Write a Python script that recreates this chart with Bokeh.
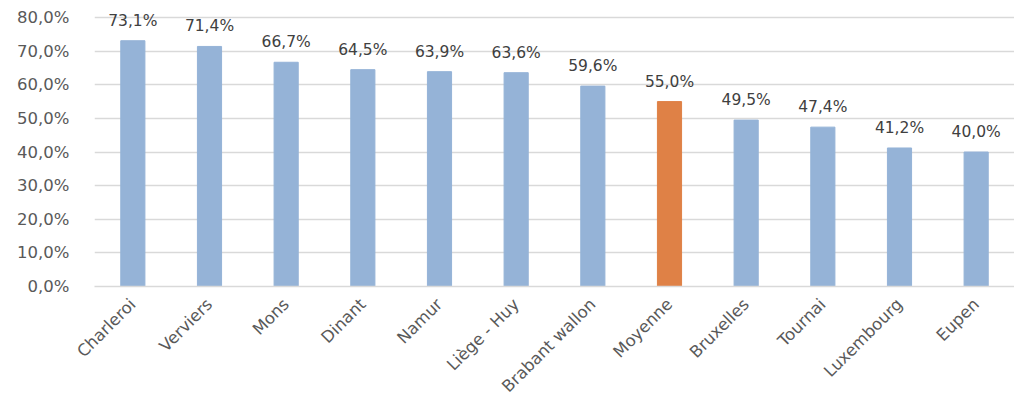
import math
from bokeh.plotting import figure
from bokeh.models import ColumnDataSource, CustomJSTickFormatter, FixedTicker, LabelSet
from bokeh.core.properties import value
from bokeh.embed import file_html
from bokeh.resources import INLINE

categories = ["Charleroi", "Verviers", "Mons", "Dinant", "Namur", "Liège - Huy",
              "Brabant wallon", "Moyenne", "Bruxelles", "Tournai", "Luxembourg", "Eupen"]
values = [0.731, 0.714, 0.667, 0.645, 0.639, 0.636, 0.596, 0.550, 0.495, 0.474, 0.412, 0.400]
labels = ["73,1%", "71,4%", "66,7%", "64,5%", "63,9%", "63,6%", "59,6%", "55,0%", "49,5%", "47,4%", "41,2%", "40,0%"]
colors = ["#95B3D7"] * 7 + ["#DF8146"] + ["#95B3D7"] * 4
y_ticks = [0.0, 0.1, 0.2, 0.3, 0.4, 0.5, 0.6, 0.7, 0.8]

FONT = "DejaVu Sans"
GREY = "#595959"

src = ColumnDataSource(dict(cat=categories, val=values, lab=labels, col=colors))

p = figure(x_range=categories, y_range=(0, 0.812), width=1014, height=408,
           output_backend="svg", toolbar_location=None,
           min_border_left=94, min_border_right=0, min_border_top=13, min_border_bottom=122)
p.outline_line_color = None
p.background_fill_color = "white"
p.border_fill_color = "white"

p.vbar(x="cat", top="val", width=0.315, color="col", source=src)

p.add_layout(LabelSet(x="cat", y="val", text="lab", source=src, text_align="center",
                      text_baseline="alphabetic", y_offset=15, text_font=value(FONT),
                      text_font_size="15.5px", text_color="#404040"))

p.x_range.range_padding = 0
p.y_range.start = 0
p.y_range.end = 0.812

p.yaxis.ticker = FixedTicker(ticks=y_ticks)
p.yaxis.formatter = CustomJSTickFormatter(code="return (tick*100).toFixed(1).replace('.', ',') + '%';")
p.yaxis.axis_line_color = None
p.yaxis.major_tick_line_color = None
p.yaxis.minor_tick_line_color = None
p.yaxis.major_label_text_font = FONT
p.yaxis.major_label_text_font_size = "16.5px"
p.yaxis.major_label_text_color = GREY
p.yaxis.major_label_standoff = 19

p.xaxis.axis_line_color = "#D9D9D9"
p.xaxis.axis_line_width = 1.5
p.xaxis.major_tick_line_color = None
p.xaxis.minor_tick_line_color = None
p.xaxis.major_label_orientation = math.pi / 4
p.xaxis.major_label_text_font = FONT
p.xaxis.major_label_text_font_size = "16.5px"
p.xaxis.major_label_text_color = GREY
p.xaxis.major_label_standoff = 9

p.xgrid.grid_line_color = None
p.ygrid.grid_line_color = "#D9D9D9"
p.ygrid.grid_line_width = 1.5

open("out.html", "w").write(file_html(p, INLINE))
